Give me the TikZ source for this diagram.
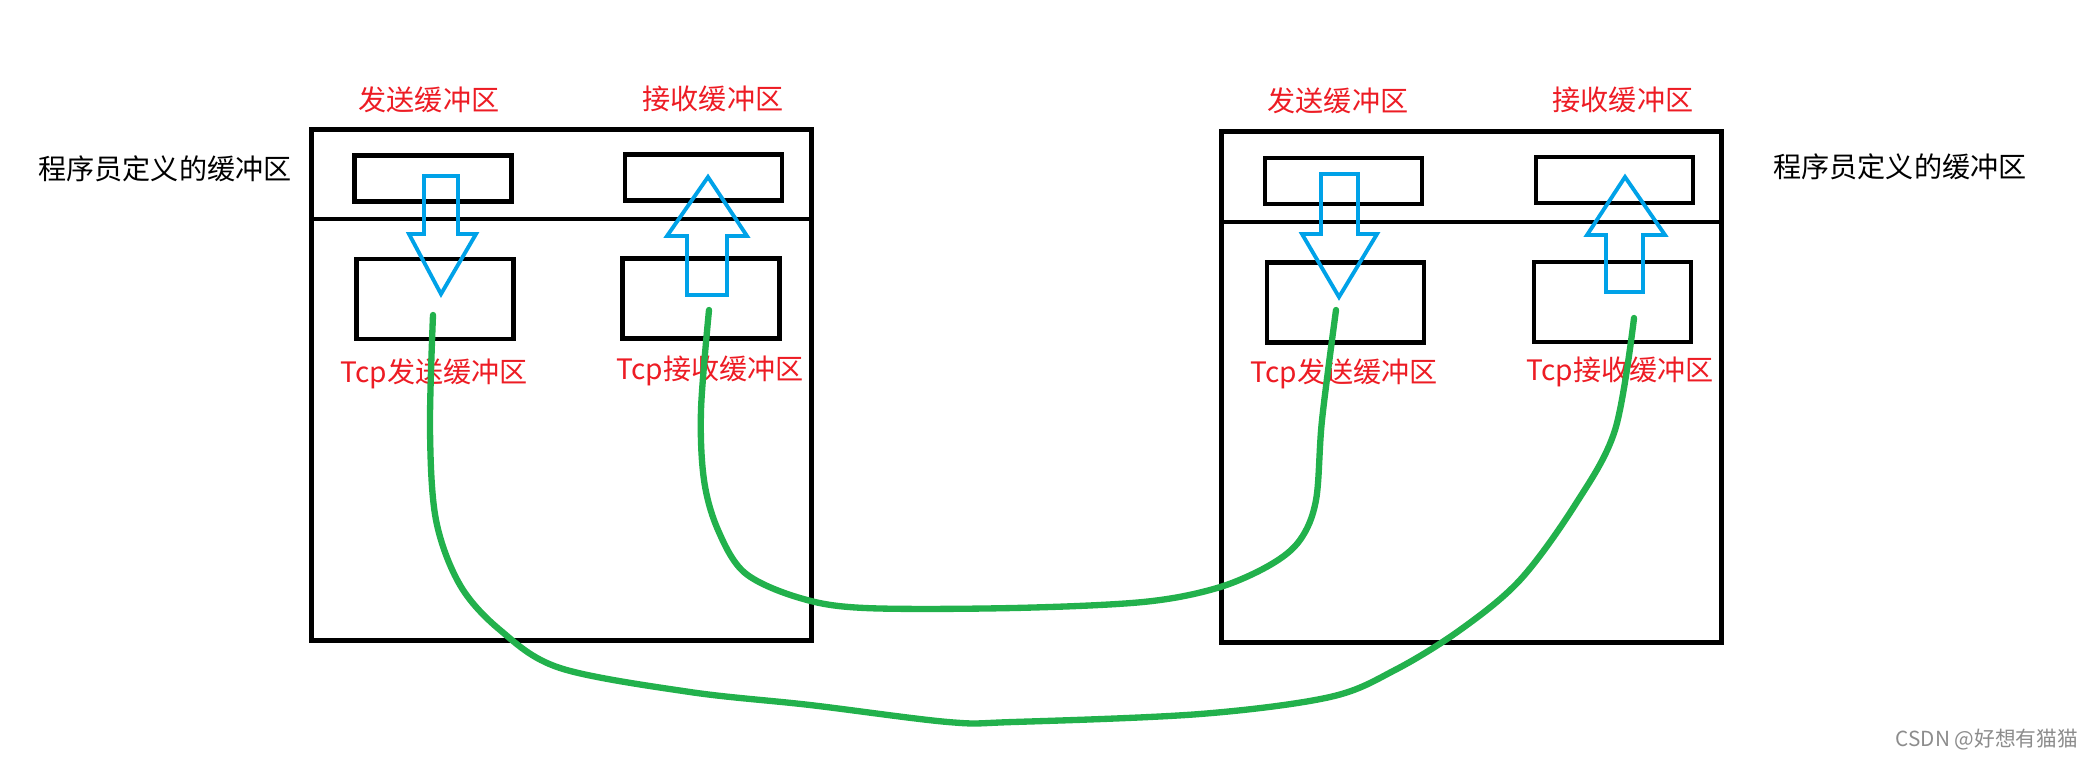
\documentclass[tikz,border=0pt]{standalone}
\usepackage{fontspec}
\setmainfont{Noto Sans CJK SC}
\definecolor{paintred}{RGB}{237,28,36}
\definecolor{paintblue}{RGB}{0,162,232}
\definecolor{paintgreen}{RGB}{34,177,76}
\tikzset{
    host/.style={draw, line width=1.3pt, inner sep=0pt, minimum width=5cm, minimum height=5.11cm},
    buf/.style={draw, line width=1.3pt, inner sep=0pt, minimum width=1.57cm, minimum height=0.46cm},
    tcpbuf/.style={buf, minimum height=0.8cm},
    lbl/.style={text=paintred, inner sep=0pt, font=\fontsize{8}{9}\selectfont},
    note/.style={inner sep=0pt, font=\fontsize{8}{9}\selectfont},
    pipe/.style={draw=paintblue, line width=1.1pt, line join=miter},
    wire/.style={draw=paintgreen, line width=1.8pt, line cap=round}
}
\begin{document}
\begin{tikzpicture}
    \useasboundingbox (0,0) rectangle (20.85,-7.59);
    \node[host] (lhost) at (5.615,-3.85) {};
    \coordinate (ldiv) at (0,-2.19);
    \draw[line width=1.3pt] (lhost.west |- ldiv) -- (lhost.east |- ldiv);
    \node[buf] (lusend) at (4.33,-1.785) {};
    \node[buf] (lurecv) at (7.035,-1.775) {};
    \node[tcpbuf] (lbsend) at (4.35,-2.99) {};
    \node[tcpbuf] (lbrecv) at (7.01,-2.985) {};
    \node[host] (rhost) at (14.715,-3.87) {};
    \coordinate (rdiv) at (0,-2.22);
    \draw[line width=1.3pt] (rhost.west |- rdiv) -- (rhost.east |- rdiv);
    \node[buf] (rusend) at (13.435,-1.81) {};
    \node[buf] (rurecv) at (16.145,-1.80) {};
    \node[tcpbuf] (rbsend) at (13.455,-3.025) {};
    \node[tcpbuf] (rbrecv) at (16.125,-3.02) {};
    \node[lbl] (lsendlbl) at (4.29,-1.00) {发送缓冲区};
    \node[lbl] (lrecvlbl) at (7.13,-0.99) {接收缓冲区};
    \node[lbl] (ltcpsendlbl) at (4.34,-3.74) {Tcp发送缓冲区};
    \node[lbl] (ltcprecvlbl) at (7.10,-3.71) {Tcp接收缓冲区};
    \node[lbl] (rsendlbl) at (13.38,-1.01) {发送缓冲区};
    \node[lbl] (rrecvlbl) at (16.23,-1.00) {接收缓冲区};
    \node[lbl] (rtcpsendlbl) at (13.44,-3.74) {Tcp发送缓冲区};
    \node[lbl] (rtcprecvlbl) at (16.20,-3.72) {Tcp接收缓冲区};
    \node[note] (lnote) at (1.65,-1.69) {程序员定义的缓冲区};
    \node[note] (rnote) at (19.00,-1.67) {程序员定义的缓冲区};
    \node[inner sep=0pt, text=black!45, font=\fontsize{5.9}{7}\selectfont] (mark) at (19.87,-7.40) {CSDN @好想有猫猫};
    \draw[pipe] (4.24,-1.76) -- (4.58,-1.76) -- (4.58,-2.34) -- (4.76,-2.34) -- (4.41,-2.94) -- (4.09,-2.34) -- (4.24,-2.34) -- cycle;
    \draw[pipe] (6.87,-2.95) -- (7.27,-2.95) -- (7.27,-2.36) -- (7.47,-2.36) -- (7.08,-1.77) -- (6.67,-2.36) -- (6.87,-2.36) -- cycle;
    \draw[pipe] (13.21,-1.74) -- (13.58,-1.74) -- (13.58,-2.34) -- (13.77,-2.34) -- (13.39,-2.97) -- (13.02,-2.34) -- (13.21,-2.34) -- cycle;
    \draw[pipe] (16.06,-2.92) -- (16.43,-2.92) -- (16.43,-2.35) -- (16.65,-2.35) -- (16.25,-1.77) -- (15.87,-2.35) -- (16.06,-2.35) -- cycle;
    \coordinate (lsendend) at (4.33,-3.15);
    \coordinate (lrecvend) at (7.09,-3.10);
    \coordinate (rsendend) at (13.36,-3.10);
    \coordinate (rrecvend) at (16.34,-3.18);
    \draw[wire] plot[smooth, tension=0.55] coordinates {(lsendend) (4.30,-4.30) (4.36,-5.20) (4.60,-5.85) (5.00,-6.30) (5.60,-6.68) (6.90,-6.92) (8.10,-7.05) (9.48,-7.22) (10.13,-7.22) (12.00,-7.14) (13.30,-6.97) (13.95,-6.70) (14.60,-6.30) (15.20,-5.80) (15.75,-5.05) (16.15,-4.30) (rrecvend)};
    \draw[wire] plot[smooth, tension=0.55] coordinates {(lrecvend) (7.01,-4.10) (7.04,-4.80) (7.18,-5.30) (7.45,-5.73) (8.00,-5.98) (8.65,-6.08) (10.13,-6.08) (11.43,-6.02) (12.17,-5.88) (12.70,-5.65) (13.00,-5.40) (13.16,-5.00) (13.22,-4.20) (rsendend)};
\end{tikzpicture}
\end{document}
